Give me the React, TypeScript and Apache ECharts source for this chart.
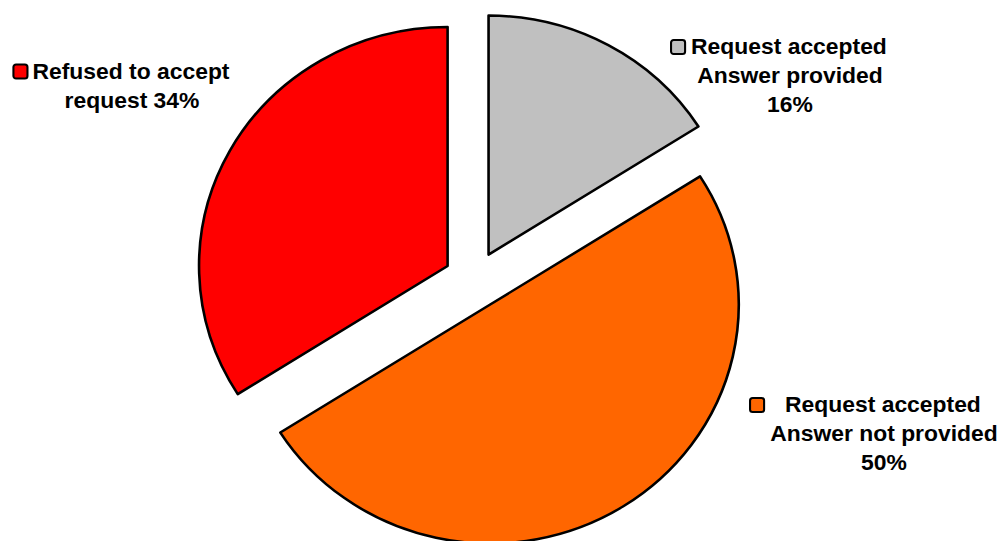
import React, { useEffect, useRef } from "react";
import * as echarts from "echarts";

const categories = [
  "Request accepted\nAnswer provided",
  "Request accepted\nAnswer not provided",
  "Refused to accept\nrequest",
];
const values = [16, 50, 34];
const colors = ["#C0C0C0", "#FF6600", "#FF0000"];
// whether the percentage goes on its own line
const pctOwnLine = [true, true, false];

// the original chart is slightly stretched horizontally
const STRETCH = 1.04;
const W = 1004 / STRETCH;
const H = 541;

// label block centres (page px) and key gaps
const labelPos = [
  [790, 76],
  [884, 434],
  [132, 86],
];
const keyGap = [7, 22, 6];

export default function App() {
  const ref = useRef<HTMLDivElement>(null);
  useEffect(() => {
    if (!ref.current) return;
    const chart = echarts.init(ref.current, null, { renderer: "svg" });
    const total = values.reduce((a, b) => a + b, 0);
    const tStyle = {
      fill: "#000",
      fontFamily: "Arial, 'Liberation Sans', sans-serif",
      fontWeight: "bold",
      fontSize: 22,
      lineHeight: 29,
    };
    const data = categories.map((name, i) => ({
      name,
      value: values[i],
      selected: true,
      itemStyle: { color: colors[i], borderColor: "#000", borderWidth: 2.5 },
      select: { itemStyle: { color: colors[i], borderColor: "#000", borderWidth: 2.5 } },
    }));
    const labels = categories.map((name, i) => {
      const lines = name.split("\n");
      const pct = Math.round((values[i] / total) * 100) + "%";
      if (pctOwnLine[i]) lines.push(pct);
      else lines[lines.length - 1] += " " + pct;
      const gap = keyGap[i] / STRETCH;
      const text = lines
        .map((l, j) => (j === 0 ? `{k|}{g|}{t|${l}}{p|}` : `{t|${l}}`))
        .join("\n");
      return {
        type: "text",
        x: labelPos[i][0] / STRETCH,
        y: labelPos[i][1],
        silent: true,
        style: {
          text,
          x: 0,
          y: 0,
          align: "center",
          verticalAlign: "middle",
          ...tStyle,
          rich: {
            k: {
              width: 11.5,
              height: 12,
              backgroundColor: colors[i],
              borderColor: "#000",
              borderWidth: 2,
              borderRadius: 1.5,
              lineHeight: 29,
            },
            g: { width: gap, lineHeight: 29 },
            p: { width: gap + 13.5, lineHeight: 29 },
            t: tStyle,
          },
        },
      };
    });
    chart.setOption({
      animation: false,
      graphic: labels,
      series: [
        {
          type: "pie",
          center: [455.8, 280],
          radius: 239,
          startAngle: 90,
          clockwise: true,
          selectedMode: "multiple",
          selectedOffset: 29,
          avoidLabelOverlap: false,
          emphasis: { disabled: true },
          data,
          label: { show: false },
          labelLine: { show: false },
        },
      ],
    });
    return () => chart.dispose();
  }, []);
  return (
    <div
      ref={ref}
      style={{
        position: "absolute",
        left: 0,
        top: 0,
        width: W,
        height: H,
        transform: `scaleX(${STRETCH})`,
        transformOrigin: "0 0",
      }}
    />
  );
}
